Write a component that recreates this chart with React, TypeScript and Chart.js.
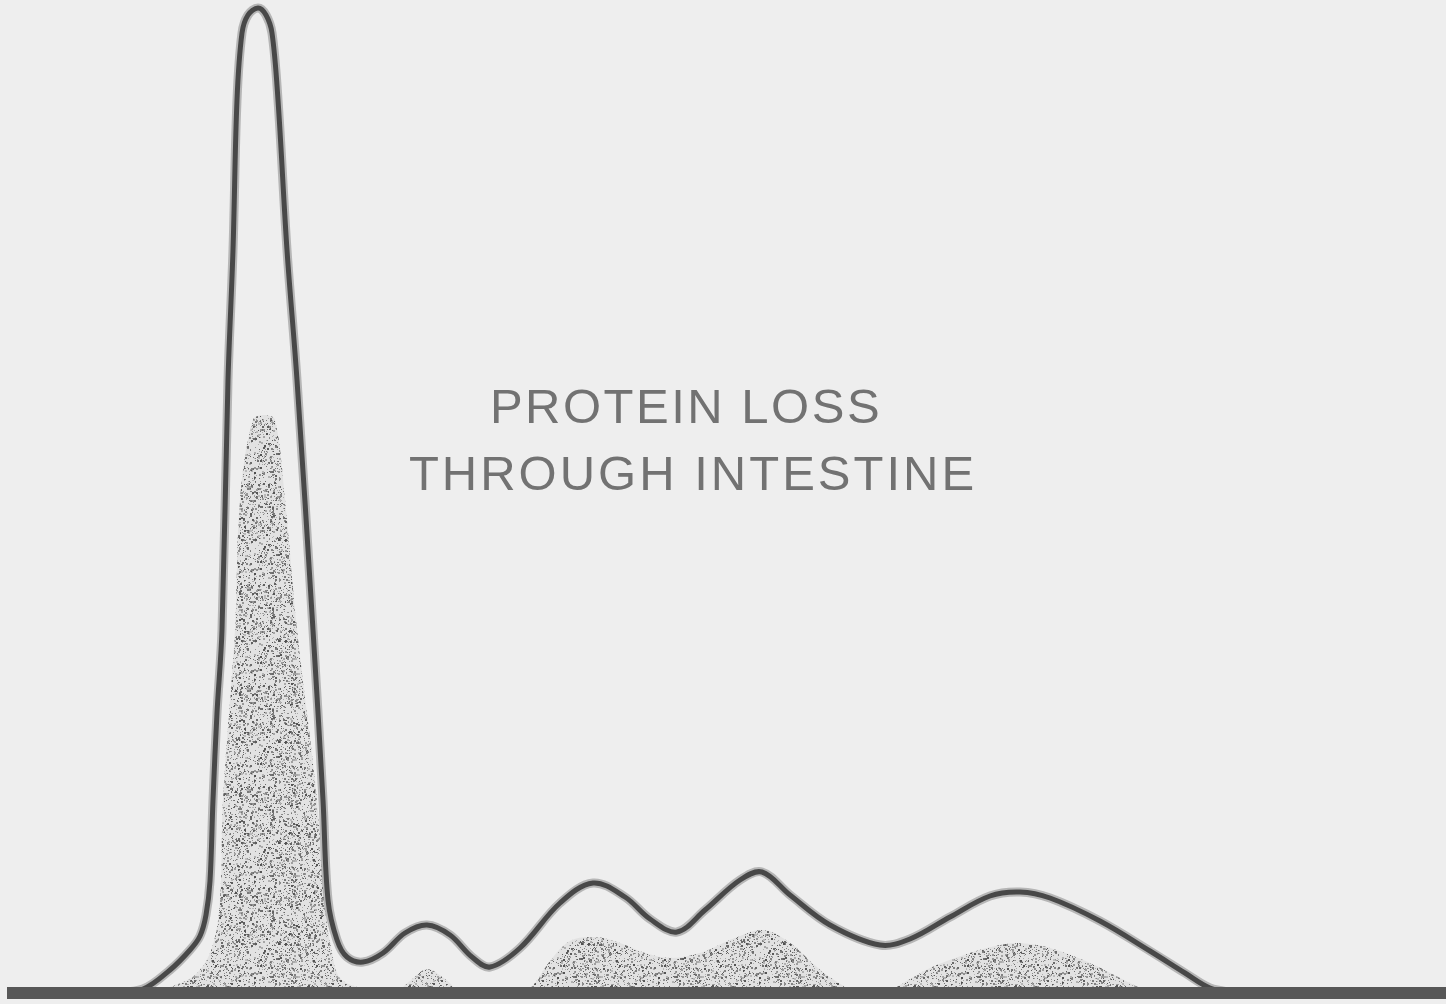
import React, { useEffect, useRef } from "react";
import { Chart, registerables } from "chart.js";

Chart.register(...registerables);

// Electrophoretic mobility (horizontal position) and densitometer reading
const totalMobility = [
  110, 143, 170, 190, 200, 206, 210, 213, 217, 222, 228, 233, 237, 242, 248, 258,
  266, 272, 278, 287, 297, 313, 323, 328, 337, 347, 363, 383, 405, 427, 450, 472,
  490, 520, 560, 593, 625, 650, 677, 705, 740, 762, 790, 830, 880, 910, 950, 990,
  1020, 1050, 1100, 1150, 1185, 1210, 1235,
];
const totalProtein = [
  0, 4, 23, 43, 57, 78, 112, 193, 280, 363, 613, 743, 893, 960, 978, 985,
  978, 960, 893, 743, 613, 363, 193, 93, 53, 36, 31, 40, 60, 68, 58, 36,
  26, 45, 90, 110, 96, 74, 61, 83, 113, 121, 98, 68, 48, 54, 76, 97,
  101, 95, 72, 42, 20, 5, 0,
];

const lossMobility = [
  150, 170, 195, 212, 220, 223, 235, 240, 253, 265, 275, 285, 297, 317, 324, 332,
  340, 360, 385,
  395, 410, 427, 445, 463,
  522, 535, 550, 570, 595, 620, 645, 670, 700, 735, 763, 790, 818, 842, 860,
  885, 900, 930, 970, 1000, 1020, 1050, 1090, 1120, 1145, 1160,
];
const lossProtein = [
  0, 6, 18, 45, 93, 193, 363, 493, 573, 578, 573, 493, 363, 193, 93, 40,
  15, 5, 0,
  0, 12, 24, 14, 0,
  0, 10, 32, 52, 56, 50, 40, 35, 40, 55, 63, 50, 25, 8, 0,
  0, 8, 25, 40, 48, 50, 45, 30, 15, 3, 0,
];

const baselineMobility = [7, 1446];
const baselineLevel = [0, 0];

const titleLines = ["PROTEIN LOSS", "THROUGH INTESTINE"];

// layout constants (not data)
const X_MIN = 0;
const X_MAX = 1446;
const Y_MIN = -11;
const Y_MAX = 993;
const TITLE_POS = [
  { x: 686, y: 570, spacing: "2.5px" },
  { x: 693, y: 503, spacing: "3px" },
];

function pts(xs: number[], ys: number[]) {
  return xs.map((x, i) => ({ x, y: ys[i] }));
}

function makeStipple(ctx: CanvasRenderingContext2D): CanvasPattern | string {
  const c = document.createElement("canvas");
  const n = 101;
  c.width = n;
  c.height = n;
  const g = c.getContext("2d");
  if (!g) return "#c8c8c8";
  g.fillStyle = "#e2e2e2";
  g.fillRect(0, 0, n, n);
  let s = 20240607;
  const next = () => {
    s = (Math.imul(s, 1103515245) + 12345) >>> 0;
    return s / 4294967296;
  };
  for (let i = 0; i < 2000; i++) {
    const x = Math.floor(next() * n);
    const y = Math.floor(next() * n);
    const shade = Math.floor(80 + next() * 110);
    const sz = next() < 0.25 ? 2 : 1;
    g.fillStyle = `rgb(${shade},${shade},${shade})`;
    g.fillRect(x, y, sz, sz);
  }
  return ctx.createPattern(c, "repeat") || "#c8c8c8";
}

const bgPlugin = {
  id: "paperBg",
  beforeDraw(chart: any) {
    const { ctx, width, height } = chart;
    ctx.save();
    ctx.fillStyle = "#eeeeee";
    ctx.fillRect(0, 0, width, height);
    ctx.restore();
  },
};

const titlePlugin = {
  id: "centerTitle",
  afterDatasetsDraw(chart: any) {
    const { ctx, scales } = chart;
    ctx.save();
    ctx.fillStyle = "#727272";
    ctx.font = '49px "Liberation Sans", Arial, sans-serif';
    ctx.textAlign = "center";
    ctx.textBaseline = "alphabetic";
    titleLines.forEach((line, i) => {
      const p = TITLE_POS[i];
      try {
        (ctx as any).letterSpacing = p.spacing;
      } catch (e) {}
      ctx.fillText(line, scales.x.getPixelForValue(p.x), scales.y.getPixelForValue(p.y));
    });
    ctx.restore();
  },
};

export default function App() {
  const ref = useRef<HTMLCanvasElement | null>(null);

  useEffect(() => {
    const canvas = ref.current;
    if (!canvas) return;
    const ctx = canvas.getContext("2d");
    if (!ctx) return;
    const stipple = makeStipple(ctx);
    const total = pts(totalMobility, totalProtein);

    const chart = new Chart(ctx, {
      type: "line",
      data: {
        datasets: [
          {
            label: "baseline",
            data: pts(baselineMobility, baselineLevel),
            borderColor: "#575757",
            borderWidth: 12,
            pointRadius: 0,
            fill: false,
            order: 0,
          },
          {
            label: "Total serum protein",
            data: total,
            borderColor: "#484848",
            borderWidth: 5,
            pointRadius: 0,
            tension: 0.35,
            fill: false,
            order: 1,
          },
          {
            label: "Total serum protein halo",
            data: total,
            borderColor: "rgba(125,125,125,0.5)",
            borderWidth: 9,
            pointRadius: 0,
            tension: 0.35,
            fill: false,
            order: 2,
          },
          {
            label: "Protein loss through intestine",
            data: pts(lossMobility, lossProtein),
            borderColor: "rgba(0,0,0,0)",
            borderWidth: 0,
            backgroundColor: stipple as any,
            pointRadius: 0,
            tension: 0.35,
            fill: { value: 0 },
            order: 3,
          },
        ],
      },
      options: {
        responsive: false,
        animation: false,
        events: [],
        layout: { padding: 0, autoPadding: false } as any,
        scales: {
          x: { type: "linear", min: X_MIN, max: X_MAX, display: false },
          y: { type: "linear", min: Y_MIN, max: Y_MAX, display: false },
        },
        plugins: {
          legend: { display: false },
          tooltip: { enabled: false },
          title: { display: false },
        },
      },
      plugins: [bgPlugin, titlePlugin],
    });
    return () => chart.destroy();
  }, []);

  return (
    <canvas
      ref={ref}
      width={1446}
      height={1004}
      style={{ position: "absolute", left: 0, top: 0, display: "block", width: 1446, height: 1004 }}
    />
  );
}
